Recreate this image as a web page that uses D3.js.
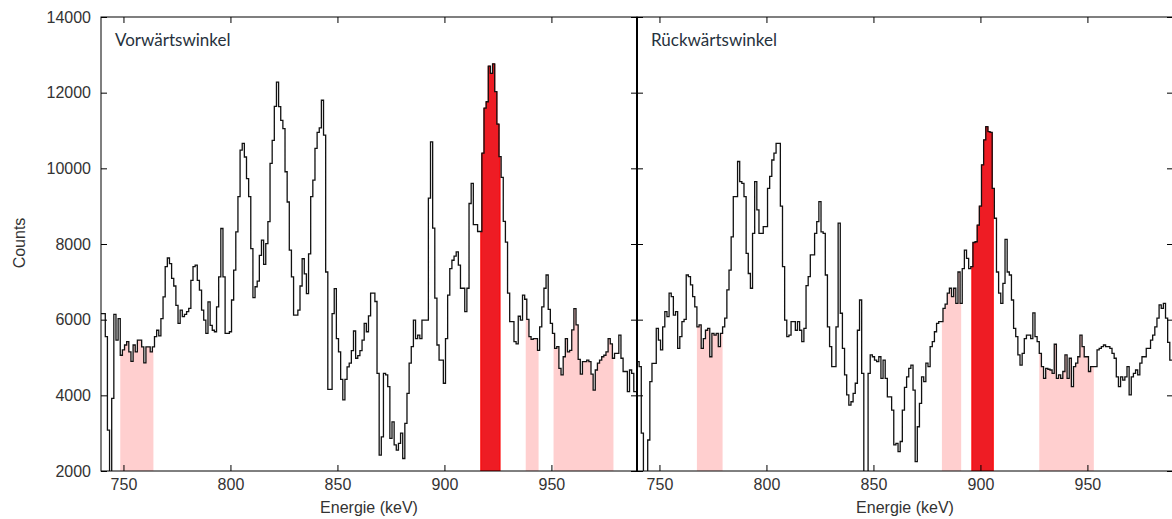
<!DOCTYPE html>
<html>
<head>
<meta charset="utf-8">
<script src="https://cdn.jsdelivr.net/npm/d3@7"></script>
<style>
  body { margin: 0; background: #fff; }
  svg text { font-family: "Liberation Sans", Arial, sans-serif; fill: #333; }
  .panel-title { font-family: Lato, "Open Sans", sans-serif; }
</style>
</head>
<body>
<div id="chart"></div>
<script>
// bin centres in keV, 1 keV bins
let energies = d3.range(740, 990)

let forwardCounts = [
  6160, 6160, 5550, 3080, 1200, 3920, 6140, 5460, 6030, 5060,
  5200, 5330, 5420, 5150, 4900, 5330, 5150, 5460, 5460, 5280,
  4860, 5280, 5280, 5150, 5280, 5550, 5720, 5570, 6030, 6600,
  7400, 7630, 7480, 7090, 6890, 6380, 5900, 6250, 6080, 6140,
  6210, 6300, 7040, 7400, 7440, 7040, 6780, 6250, 5990, 5640,
  6470, 5850, 5720, 5680, 6340, 7130, 8410, 7130, 5640, 5640,
  5680, 6520, 7310, 8320, 9250, 10480, 10660, 10300, 9730, 9250,
  7880, 6580, 6870, 7020, 7700, 8100, 7460, 8010, 8590, 10130,
  10740, 11640, 12280, 11630, 11270, 11050, 9910, 9110, 7840, 7130,
  6120, 6120, 6250, 6890, 7610, 7210, 6690, 7740, 9250, 9690,
  10530, 10950, 11070, 11800, 10880, 7260, 4160, 4160, 6160, 6820,
  5500, 5150, 4420, 3880, 4420, 4750, 4850, 5180, 5700, 4980,
  5050, 5180, 5460, 5900, 5680, 6100, 6700, 6700, 6480, 4580,
  2420, 2900, 4580, 4540, 4230, 2860, 3300, 2690, 2550, 2730,
  3000, 2330, 3260, 4050, 4850, 5290, 5990, 5500, 5590, 5500,
  5990, 5990, 5990, 9210, 10700, 8420, 6570, 5330, 4930, 4930,
  4320, 5500, 6650, 7350, 7570, 7680, 7790, 7440, 6830, 6830,
  6210, 6830, 9070, 9600, 8510, 8510, 8330, 8330, 10400, 11590,
  11760, 12700, 12510, 12760, 12030, 11170, 10310, 9760, 8600, 8050,
  6700, 5950, 5950, 5420, 5360, 6090, 5990, 6650, 6540, 6010,
  5550, 5480, 5500, 5500, 5190, 5810, 6340, 6830, 7180, 6270,
  5900, 5640, 5240, 5290, 4710, 4540, 5020, 5500, 5150, 5190,
  5730, 6290, 5860, 4950, 4560, 4890, 4890, 4930, 4890, 4560,
  4140, 4670, 4850, 4930, 5020, 5060, 5150, 5500, 5360, 4980,
  5110, 5110, 5590, 4980, 4630, 4630, 4100, 4670, 4580, 4100
]

let backwardCounts = [
  4890, 4760, 3000, 1200, 1200, 2820, 4360, 4845, 4845, 5770,
  5460, 5200, 5810, 6210, 6080, 6700, 6610, 6120, 6210, 5240,
  5550, 5950, 6010, 7180, 7140, 6920, 6610, 6340, 5810, 5860,
  5240, 5500, 5720, 5770, 5020, 5640, 5590, 5640, 5290, 5640,
  5810, 6040, 6790, 7310, 8190, 9250, 9250, 10180, 9650, 9600,
  9250, 7750, 7220, 6830, 8280, 9650, 8900, 8280, 8280, 8460,
  8460, 9470, 9790, 10220, 10400, 10660, 10660, 9000, 7400, 5990,
  5550, 5590, 5950, 5950, 5720, 5950, 5720, 5420, 5770, 6900,
  7140, 7710, 7710, 8280, 8590, 9120, 8320, 8280, 7180, 5810,
  5290, 4760, 4760, 5810, 8550, 6170, 5240, 4540, 4010, 3740,
  3830, 4050, 4320, 5720, 6520, 4580, 1300, 1300, 4580, 5070,
  5020, 4930, 4890, 5020, 4450, 4930, 4450, 3960, 3960, 3610,
  2690, 2730, 2510, 2780, 3610, 4210, 4490, 4710, 4800, 4140,
  2250, 3170, 3790, 4490, 4360, 4850, 4760, 5290, 5420, 5680,
  5900, 5950, 5950, 6300, 6410, 6700, 6830, 6610, 6830, 6430,
  7260, 6430, 7350, 7840, 7620, 7350, 7400, 8040, 8060, 8500,
  9000, 10090, 10750, 11100, 10970, 10950, 9470, 8680, 7260, 6700,
  6430, 6960, 8120, 7260, 7180, 6520, 5770, 5550, 5070, 4800,
  5110, 5500, 5590, 5590, 5500, 6180, 5550, 5420, 5110, 4760,
  4450, 4710, 4690, 4670, 4580, 5350, 4450, 4540, 4450, 4630,
  5070, 4450, 4980, 4230, 4760, 4850, 5020, 5590, 5290, 5020,
  5020, 4630, 4760, 4760, 4760, 5200, 5240, 5290, 5330, 5290,
  5290, 5240, 5110, 4980, 4490, 4230, 4490, 4400, 4490, 4760,
  4010, 4490, 4580, 4670, 4540, 4850, 5020, 5020, 5240, 5240,
  5460, 5590, 5810, 6040, 6390, 6300, 6430, 6040, 5400, 4930
]

// highlighted windows [from keV, to keV, kind]
let forwardBands = [[748.5, 764, "side"], [917, 926, "peak"], [938, 944, "side"], [951, 979, "side"]]
let backwardBands = [[767.5, 779.5, "side"], [882, 891, "side"], [896, 906, "peak"], [927.5, 953, "side"]]

let xTicks = [750, 800, 850, 900, 950]
let yTicks = [2000, 4000, 6000, 8000, 10000, 12000, 14000]

let width = 1172, height = 519
let plotTop = 17, plotBottom = 471, panelWidth = 536

let svg = d3.select("#chart")
  .append("svg")
  .attr("width", width)
  .attr("height", height)

let yAx = d3.scaleLinear()
  .domain([2000, 14000])
  .range([plotBottom, plotTop])

const drawPanel = (left, counts, bands, title, showYLabels, id) => {
  let xAx = d3.scaleLinear()
    .domain([739.5, 990])
    .range([left, left + panelWidth])

  svg.append("clipPath").attr("id", id)
    .append("rect")
    .attr("x", left).attr("y", plotTop)
    .attr("width", panelWidth).attr("height", plotBottom - plotTop)

  let g = svg.append("g").attr("clip-path", "url(#" + id + ")")

  // step outline: each bin from centre-0.5 to centre+0.5
  let pts = energies.map((e, i) => [e - 0.5, counts[i]])
  pts.push([energies[energies.length - 1] + 0.5, counts[counts.length - 1]])

  bands.forEach(([lo, hi, kind]) => {
    let bp = []
    energies.forEach((e, i) => {
      if (e + 0.5 > lo && e - 0.5 < hi) bp.push([Math.max(e - 0.5, lo), counts[i]])
    })
    bp.push([hi, bp[bp.length - 1][1]])
    g.append("path")
      .datum(bp)
      .attr("d", d3.area()
        .curve(d3.curveStepAfter)
        .x(d => xAx(d[0]))
        .y0(yAx(2000))
        .y1(d => yAx(d[1])))
      .attr("fill", kind == "peak" ? "#ee1c24" : "#ffcfcf")
      .attr("stroke", kind == "peak" ? "#ff0000" : "none")
      .attr("stroke-width", 1)
  })

  g.append("path")
    .datum(pts)
    .attr("d", d3.line()
      .curve(d3.curveStepAfter)
      .x(d => xAx(d[0]))
      .y(d => yAx(d[1])))
    .attr("fill", "none")
    .attr("stroke", "#111")
    .attr("stroke-width", 1.3)

  // inward ticks on all four sides
  svg.append("g")
    .attr("transform", "translate(0," + plotBottom + ")")
    .call(d3.axisBottom(xAx).tickValues(xTicks).tickSize(-6).tickSizeOuter(0).tickPadding(8))
  svg.append("g")
    .attr("transform", "translate(0," + plotTop + ")")
    .call(d3.axisTop(xAx).tickValues(xTicks).tickSize(-6).tickSizeOuter(0).tickFormat(""))
  svg.append("g")
    .attr("transform", "translate(" + left + ",0)")
    .call(d3.axisLeft(yAx).tickValues(yTicks).tickSize(-6).tickSizeOuter(0).tickPadding(10)
      .tickFormat(showYLabels ? d3.format("d") : ""))
  svg.append("g")
    .attr("transform", "translate(" + (left + panelWidth) + ",0)")
    .call(d3.axisRight(yAx).tickValues(yTicks).tickSize(-6).tickSizeOuter(0).tickFormat(""))

  svg.selectAll(".domain").remove()
  svg.selectAll(".tick line").attr("stroke", "#000")
  svg.selectAll(".tick text").style("font-size", "16px").attr("fill", "#333")

  svg.append("rect")
    .attr("x", left).attr("y", plotTop)
    .attr("width", panelWidth).attr("height", plotBottom - plotTop)
    .attr("fill", "none")
    .attr("stroke", "#000")
    .attr("stroke-width", 1)

  svg.append("text")
    .attr("class", "panel-title")
    .attr("x", left + 14)
    .attr("y", 46)
    .style("font-size", "17px")
    .style("fill", "#27323d")
    .text(title)

  svg.append("text")
    .attr("x", left + panelWidth / 2)
    .attr("y", 513)
    .attr("text-anchor", "middle")
    .style("font-size", "16px")
    .text("Energie (keV)")
}

drawPanel(101, forwardCounts, forwardBands, "Vorwärtswinkel", true, "clipFwd")
drawPanel(637, backwardCounts, backwardBands, "Rückwärtswinkel", false, "clipBwd")

// shared border between the two panels
svg.append("line")
  .attr("x1", 637).attr("x2", 637)
  .attr("y1", plotTop).attr("y2", plotBottom)
  .attr("stroke", "#000")
  .attr("stroke-width", 2)

svg.append("text")
  .attr("transform", "translate(25,243) rotate(-90)")
  .attr("text-anchor", "middle")
  .style("font-size", "16px")
  .text("Counts")
</script>
</body>
</html>
